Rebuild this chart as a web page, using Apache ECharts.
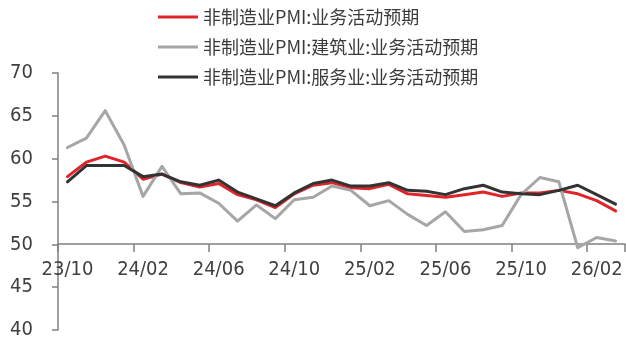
<!DOCTYPE html>
<html>
<head>
<meta charset="utf-8">
<script src="https://cdn.jsdelivr.net/npm/echarts@6/dist/echarts.min.js"></script>
<style>
  html, body { margin: 0; padding: 0; background: #ffffff; }
  #chart { width: 626px; height: 340px; }
</style>
</head>
<body>
<div id="chart"></div>
<script>
// Monthly categories, 2023/10 to 2026/03
const categories = [
  '23/10', '23/11', '23/12', '24/01', '24/02', '24/03', '24/04', '24/05', '24/06', '24/07',
  '24/08', '24/09', '24/10', '24/11', '24/12', '25/01', '25/02', '25/03', '25/04', '25/05',
  '25/06', '25/07', '25/08', '25/09', '25/10', '25/11', '25/12', '26/01', '26/02', '26/03'
];

// 非制造业PMI:业务活动预期
const nonMfgExpect = [
  57.9, 59.6, 60.3, 59.6, 57.6, 58.2, 57.2, 56.7, 57.1, 55.8,
  55.2, 54.3, 55.9, 56.9, 57.2, 56.6, 56.5, 57.0, 55.9, 55.7,
  55.5, 55.8, 56.1, 55.6, 56.0, 56.0, 56.3, 55.9, 55.1, 53.9
];

// 非制造业PMI:建筑业:业务活动预期
const constructionExpect = [
  61.3, 62.4, 65.6, 61.6, 55.6, 59.1, 55.9, 56.0, 54.8, 52.7,
  54.6, 53.0, 55.2, 55.5, 56.8, 56.3, 54.5, 55.1, 53.5, 52.2,
  53.8, 51.5, 51.7, 52.2, 55.8, 57.8, 57.3, 49.6, 50.8, 50.4
];

// 非制造业PMI:服务业:业务活动预期
const servicesExpect = [
  57.3, 59.2, 59.2, 59.2, 57.9, 58.2, 57.3, 56.9, 57.5, 56.1,
  55.3, 54.5, 56.0, 57.1, 57.5, 56.8, 56.8, 57.2, 56.3, 56.2,
  55.8, 56.5, 56.9, 56.1, 55.9, 55.8, 56.3, 56.9, 55.8, 54.7
];

// Y-axis range and tick step
const yMin = 40, yMax = 70, yStep = 5;
// Value at which the category axis crosses
const xAxisCross = 50;
// Show a tick and a label every n months
const monthStep = 4;

const seriesNames = [
  '非制造业PMI:业务活动预期',
  '非制造业PMI:建筑业:业务活动预期',
  '非制造业PMI:服务业:业务活动预期'
];
const seriesData = [nonMfgExpect, constructionExpect, servicesExpect];
const seriesColors = ['#e0242a', '#a6a6a6', '#333333'];
const seriesWidths = [3, 3, 3];

const gridTop = 73, gridBottom = 9, gridLeft = 58, gridRight = 1;
const plotH = 340 - gridTop - gridBottom;
const crossOffset = -plotH * (xAxisCross - yMin) / (yMax - yMin);

const axisFont = "'Liberation Sans Narrow', 'Arial Narrow', 'DejaVu Sans Condensed', sans-serif";
const legendFont = "'Noto Sans CJK SC', sans-serif";
const axisGray = '#808080';

const chart = echarts.init(document.getElementById('chart'), null, { renderer: 'canvas' });

const legends = seriesNames.map((name, i) => ({
  data: [name],
  left: 158,
  top: 8 + i * 30,
  orient: 'horizontal',
  icon: 'rect',
  itemWidth: 40,
  itemHeight: 3,
  itemGap: 0,
  padding: 0,
  selectedMode: false,
  textStyle: { fontFamily: legendFont, fontSize: 18, color: '#3a3a3a', padding: [0, 0, 0, 0] }
}));

chart.setOption({
  animation: false,
  backgroundColor: '#ffffff',
  legend: legends,
  grid: { left: gridLeft, right: gridRight, top: gridTop, bottom: gridBottom, containLabel: false },
  xAxis: {
    type: 'category',
    data: categories,
    boundaryGap: true,
    offset: crossOffset,
    axisLine: { show: true, onZero: false, lineStyle: { color: axisGray, width: 1.5 } },
    axisTick: { show: true, interval: monthStep - 1, length: 8, inside: false,
                lineStyle: { color: axisGray, width: 1.5 } },
    axisLabel: { show: true, interval: monthStep - 1, margin: 16, fontFamily: axisFont, fontSize: 20, color: '#404040' },
    splitLine: { show: false }
  },
  yAxis: {
    type: 'value',
    min: yMin,
    max: yMax,
    interval: yStep,
    axisLine: { show: true, lineStyle: { color: axisGray, width: 1.5 } },
    axisTick: { show: true, length: 6, inside: false, lineStyle: { color: axisGray, width: 1.5 } },
    axisLabel: { margin: 25, fontFamily: axisFont, fontSize: 20, color: '#404040' },
    splitLine: { show: false }
  },
  series: seriesNames.map((name, i) => ({
    name: name,
    type: 'line',
    data: seriesData[i],
    symbol: 'none',
    smooth: false,
    color: seriesColors[i],
    lineStyle: { color: seriesColors[i], width: seriesWidths[i], join: 'round', cap: 'round' },
    emphasis: { disabled: true }
  }))
});
</script>
</body>
</html>
